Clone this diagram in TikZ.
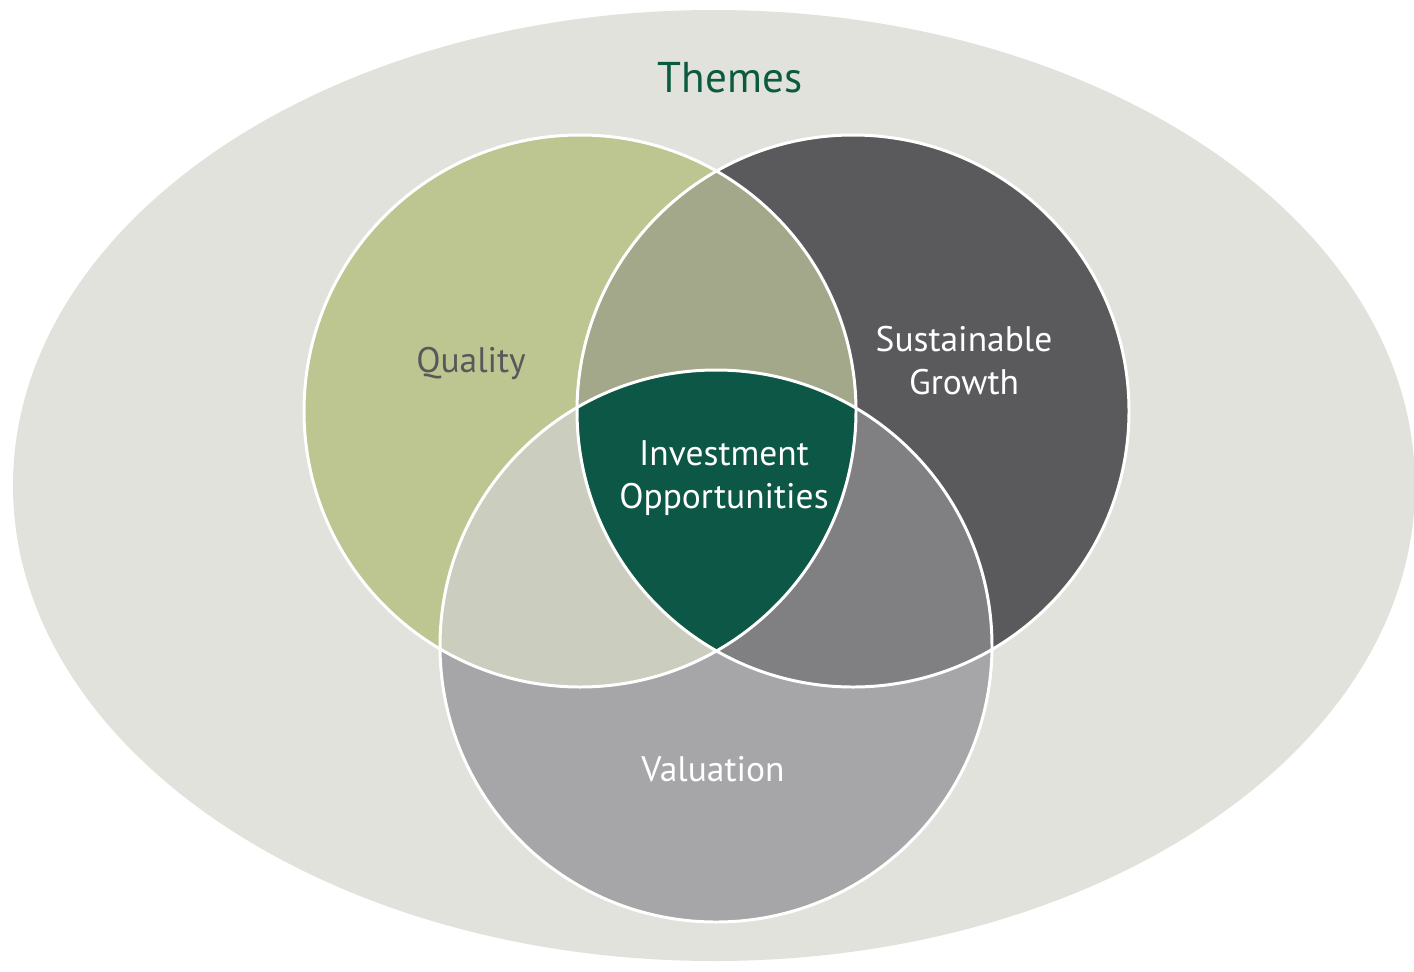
\documentclass[tikz,border=0pt]{standalone}
\usepackage{fontspec}
\setmainfont{PT Sans}
\definecolor{themebg}{HTML}{E1E2DC}
\definecolor{qualityfill}{HTML}{BDC590}
\definecolor{growthfill}{HTML}{5A5A5C}
\definecolor{valuefill}{HTML}{A6A6A8}
\definecolor{qgfill}{HTML}{A3A88A}
\definecolor{qvfill}{HTML}{CBCDBF}
\definecolor{gvfill}{HTML}{808082}
\definecolor{investfill}{HTML}{0C5745}
\definecolor{themetext}{HTML}{0C5A40}
\definecolor{qualitytext}{HTML}{58585A}

\begin{document}
\begin{tikzpicture}[x=0.02cm,y=-0.02cm,
    ring/.style={draw=white,line width=1.7pt},
    venntext/.style={font=\fontsize{20.2}{24.5}\selectfont,align=center,text=white}]
    \useasboundingbox (0,0) rectangle (1414,971);
    \clip (0,0) rectangle (1414,971);
    \def\rad{276}
    \coordinate (q) at (580,411);
    \coordinate (g) at (853,411);
    \coordinate (v) at (716,646);
    % Drawing themes ellipse
    \fill[themebg] (714,485.5) ellipse [x radius=701,y radius=475.5];
    % Drawing the three circles
    \fill[qualityfill] (q) circle (\rad);
    \fill[growthfill] (g) circle (\rad);
    \fill[valuefill] (v) circle (\rad);
    % Overlaps of two circles
    \begin{scope}
      \clip (q) circle (\rad);
      \fill[qgfill] (g) circle (\rad);
      \fill[qvfill] (v) circle (\rad);
    \end{scope}
    \begin{scope}
      \clip (g) circle (\rad);
      \fill[gvfill] (v) circle (\rad);
    \end{scope}
    % Overlap of all three
    \begin{scope}
      \clip (q) circle (\rad);
      \clip (g) circle (\rad);
      \fill[investfill] (v) circle (\rad);
    \end{scope}
    \draw[ring] (q) circle (\rad);
    \draw[ring] (g) circle (\rad);
    \draw[ring] (v) circle (\rad);
    % Labelling
    \node (themes) at (730,92) [anchor=base,text=themetext,font=\fontsize{24.5}{29}\selectfont] {Themes};
    \node (quality) at (471,372) [anchor=base,venntext,text=qualitytext] {Quality};
    \node (growth) at (964,361) [venntext] {Sustainable\\Growth};
    \node (invest) at (724,478) [venntext] {Investment\\Opportunities};
    \node (valuation) at (713,781) [anchor=base,venntext] {Valuation};
\end{tikzpicture}
\end{document}
